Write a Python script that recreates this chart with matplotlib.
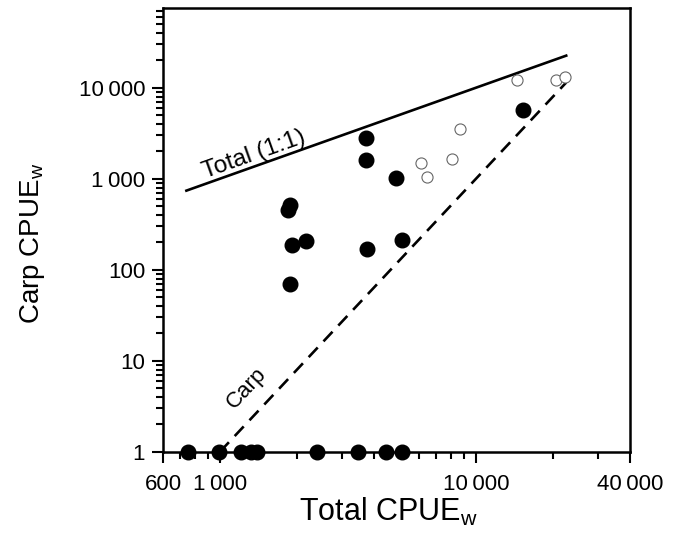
"""Carp CPUE versus total CPUE (log-log scatter)."""

import matplotlib

matplotlib.use("Agg")
import matplotlib.pyplot as plt
from matplotlib.ticker import FixedLocator, LogLocator, NullFormatter

plt.rcParams["font.family"] = ["Liberation Sans", "DejaVu Sans"]

# Sites with carp caught (filled circles)
carp_total = [3720, 3720, 4860, 1880, 1840, 1920, 2160, 3770, 5160, 1880, 15300]
carp_carp = [2780, 1610, 1010, 510, 455, 185, 207, 168, 214, 69, 5700]

# Sites with no carp, plotted on the y = 1 baseline
zero_total = [752, 990, 1210, 1320, 1390, 2390, 3470, 4450, 5140]
zero_carp = [1, 1, 1, 1, 1, 1, 1, 1, 1]

# Open circles
open_total = [14400, 20600, 22200, 8630, 8090, 6100, 6430]
open_carp = [12100, 12100, 13200, 3520, 1650, 1500, 1040]

# Reference lines
total_line_x = [740, 22500]
total_line_y = [740, 22500]
carp_line_x = [1000, 22500]
carp_line_y = [1, 11400]

x_ticks = [600, 1000, 10000, 40000]
x_tick_labels = ["600", "1\u2009000", "10\u2009000", "40\u2009000"]
y_ticks = [1, 10, 100, 1000, 10000]
y_tick_labels = ["1", "10", "100", "1\u2009000", "10\u2009000"]

fig = plt.figure(figsize=(6.88, 5.36), dpi=100)
ax = fig.add_axes([0.237, 0.157, 0.679, 0.828])

ax.set_xscale("log")
ax.set_yscale("log")
ax.set_xlim(600, 40000)
ax.set_ylim(1, 75000)

ax.plot(total_line_x, total_line_y, color="black", lw=1.9, zorder=2)
ax.plot(carp_line_x, carp_line_y, color="black", lw=1.9,
        linestyle=(0, (5, 3.2)), zorder=2)

ax.plot(open_total, open_carp, "o", ms=8, mfc="white", mec="#666666",
        mew=0.8, ls="none", zorder=3)
ax.plot(carp_total, carp_carp, "o", ms=10.5, color="black", ls="none",
        zorder=4)
ax.plot(zero_total, zero_carp, "o", ms=10.5, color="black", ls="none",
        zorder=5, clip_on=False)

ax.text(1360, 1820, "Total (1:1)", rotation=19.6, fontsize=17.5,
        ha="center", va="center", rotation_mode="anchor")
ax.text(1275, 5.0, "Carp", rotation=47, fontsize=16,
        ha="center", va="center", rotation_mode="anchor")

ax.xaxis.set_major_locator(FixedLocator(x_ticks))
ax.set_xticklabels(x_tick_labels)
ax.xaxis.set_minor_locator(LogLocator(base=10, subs=range(2, 10)))
ax.xaxis.set_minor_formatter(NullFormatter())
ax.yaxis.set_major_locator(FixedLocator(y_ticks))
ax.set_yticklabels(y_tick_labels)
ax.yaxis.set_minor_locator(LogLocator(base=10, subs=range(2, 10)))
ax.yaxis.set_minor_formatter(NullFormatter())

ax.tick_params(which="major", direction="out", length=8, width=1.5,
               labelsize=16, pad=5)
ax.tick_params(which="minor", direction="out", length=5, width=1.5)
ax.tick_params(axis="x", which="major", pad=8)

for spine in ax.spines.values():
    spine.set_linewidth(1.8)

ax.set_xlabel("Total CPUE$_\\mathregular{w}$", fontsize=22)
ax.xaxis.set_label_coords(0.483, -0.1)
ax.set_ylabel("Carp CPUE$_\\mathregular{w}$", fontsize=20)
ax.yaxis.set_label_coords(-0.249, 0.47)

fig.savefig("out.png", dpi=100)
